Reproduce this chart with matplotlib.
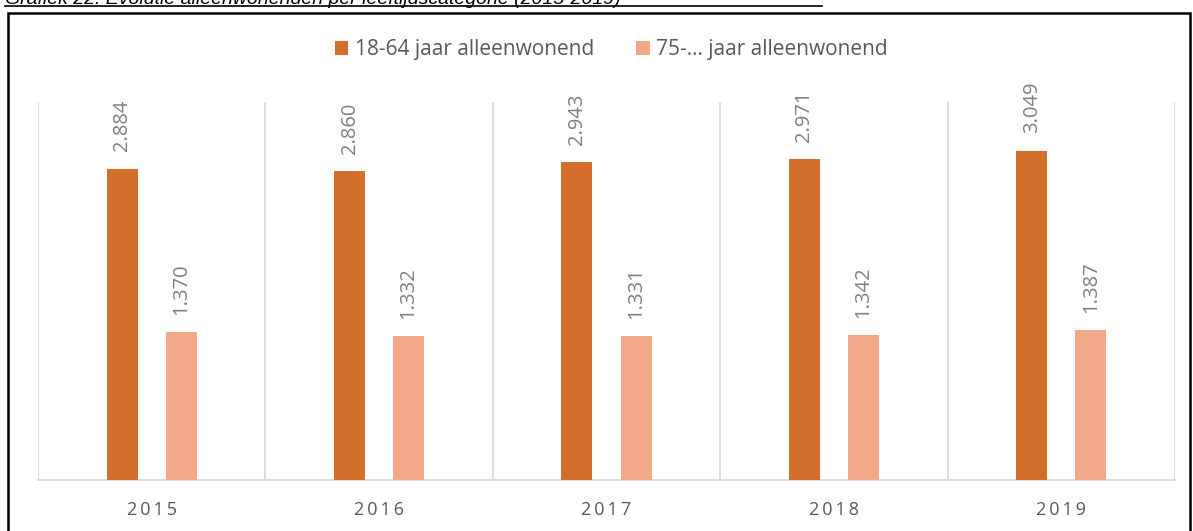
import matplotlib
matplotlib.use("Agg")
import matplotlib.pyplot as plt
import numpy as np
from matplotlib.patches import Rectangle
from matplotlib.lines import Line2D

years = ["2015", "2016", "2017", "2018", "2019"]
series_names = ["18-64 jaar alleenwonend", "75-... jaar alleenwonend"]
vals_1864 = [2884, 2860, 2943, 2971, 3049]
vals_75 = [1370, 1332, 1331, 1342, 1387]
colors = ["#D36E2B", "#F1A98A"]

plt.rcParams['font.family'] = ['Open Sans', 'DejaVu Sans']
W, H = 1193, 531
fig = plt.figure(figsize=(W/100, H/100), dpi=100)

# axes: x 38..1175, y 102..480 (pixels from top)
ax = fig.add_axes([38/W, 1-480/H, (1175-38)/W, (480-102)/H])
x = np.arange(len(years))
bw = 0.136
off = 0.13
b1 = ax.bar(x - off, vals_1864, bw, color=colors[0], label=series_names[0], zorder=3)
b2 = ax.bar(x + off, vals_75, bw, color=colors[1], label=series_names[1], zorder=3)

def fmt(v):
    return f"{v:,}".replace(",", ".")

for bars, vals in ((b1, vals_1864), (b2, vals_75)):
    for r, v in zip(bars, vals):
        ax.annotate(fmt(v), (r.get_x() + r.get_width()/2, r.get_height()),
                    xytext=(0, 12.5), textcoords="offset points",
                    rotation=90, ha="center", va="bottom",
                    fontsize=14.5, color="#7F7F7F", annotation_clip=False)

ax.set_xlim(-0.5, len(years) - 0.5)
ax.set_ylim(0, 3500)
ax.set_yticks([])
ax.set_xticks(x)
ax.set_xticklabels(["\u2009".join(y) for y in years], fontsize=13, color="#595959")
ax.tick_params(axis="x", length=0, pad=15)
for b in np.arange(-0.5, len(years) + 0.5, 1):
    ax.axvline(b, color="#D9D9D9", lw=1.3, zorder=1)
for s in ["top", "right", "left"]:
    ax.spines[s].set_visible(False)
ax.spines["bottom"].set_color("#D9D9D9")
ax.spines["bottom"].set_linewidth(1.3)

leg = fig.legend(handles=[b1, b2], labels=series_names, loc="center",
                 bbox_to_anchor=(611/W, 1-50/H), ncol=2, frameon=False,
                 fontsize=15, handlelength=0.67, handleheight=0.67,
                 handletextpad=0.3, columnspacing=2.0)
for t in leg.get_texts():
    t.set_color("#595959")

# outer black frame
fig.add_artist(Rectangle((8/W, -0.05), (1190-8)/W, (1-13/H) + 0.05,
                         transform=fig.transFigure, fill=False,
                         edgecolor="black", lw=1.8))

# title, cut off at the top edge as in the reference
fig.text(5/W, 1-4/H, "Grafiek 22: Evolutie alleenwonenden per leeftijdscategorie (2015-2019)",
         fontsize=14, style="italic", color="black", ha="left", va="baseline",
         family=["Liberation Sans", "DejaVu Sans"])
fig.add_artist(Line2D([5/W, 822/W], [1-6/H, 1-6/H], transform=fig.transFigure,
                      color="black", lw=1.2))

fig.savefig("out.png", dpi=100)
